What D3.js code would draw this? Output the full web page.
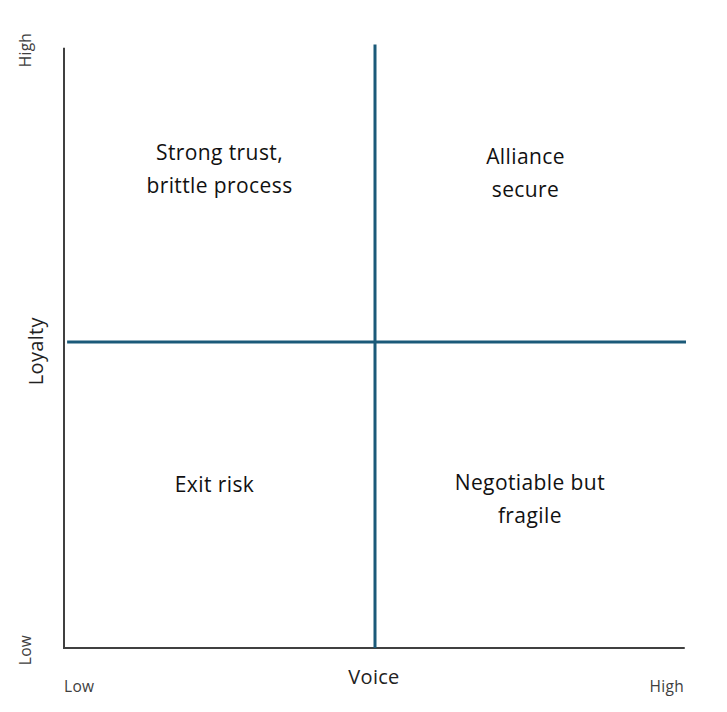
<!DOCTYPE html>
<html>
<head>
<meta charset="utf-8">
<script src="https://cdn.jsdelivr.net/npm/d3@7"></script>
<style>
  body { margin: 0; background: #fff; }
  text { font-family: "Open Sans", "Noto Sans", sans-serif; }
</style>
</head>
<body>
<svg id="chart" width="727" height="712"></svg>
<script>
const width = 727;
const height = 712;

// quadrant chart, both axes run 0..10
const xDomain = [0, 10];
const yDomain = [0, 10];
const xDivider = 5;
const yDivider = 5;

const quadrantLabels = [
  { lines: ["Strong trust,", "brittle process"], x: 2.5, y: 7.82 },
  { lines: ["Alliance", "secure"], x: 7.42, y: 7.76 },
  { lines: ["Exit risk"], x: 2.42, y: 2.66 },
  { lines: ["Negotiable but", "fragile"], x: 7.49, y: 2.42 },
];

const xTickLabels = ["Low", "High"];
const yTickLabels = ["Low", "High"];
const xTitle = "Voice";
const yTitle = "Loyalty";

const lineColor = "#1b5a79";
const axisColor = "#404040";

const svg = d3.select("#chart");

const x = d3.scaleLinear().domain(xDomain).range([64, 686]);
const y = d3.scaleLinear().domain(yDomain).range([648, 36]);

// axes (plain lines, no ticks)
svg.append("line")
  .attr("x1", x(0)).attr("x2", x(0))
  .attr("y1", y(0) + 1).attr("y2", y(9.81))
  .attr("stroke", axisColor).attr("stroke-width", 2);
svg.append("line")
  .attr("x1", x(0)).attr("x2", x(9.98))
  .attr("y1", y(0)).attr("y2", y(0))
  .attr("stroke", axisColor).attr("stroke-width", 2);

// dividers
svg.append("line")
  .attr("x1", x(xDivider)).attr("x2", x(xDivider))
  .attr("y1", y(0)).attr("y2", y(9.86))
  .attr("stroke", lineColor).attr("stroke-width", 3);
svg.append("line")
  .attr("x1", x(0.05)).attr("x2", x(10))
  .attr("y1", y(yDivider)).attr("y2", y(yDivider))
  .attr("stroke", lineColor).attr("stroke-width", 3);

// quadrant text
const lineH = 33;
quadrantLabels.forEach((q) => {
  const t = svg.append("text")
    .attr("x", x(q.x))
    .attr("y", y(q.y) - ((q.lines.length - 1) * lineH) / 2 + 7)
    .attr("text-anchor", "middle")
    .attr("font-size", 21)
    .attr("letter-spacing", 0.4)
    .attr("fill", "#111");
  q.lines.forEach((l, i) => {
    t.append("tspan")
      .attr("x", x(q.x))
      .attr("dy", i === 0 ? 0 : lineH)
      .text(l);
  });
});

// x tick labels
svg.append("text")
  .attr("x", x(0)).attr("y", 692)
  .attr("font-size", 15.5).attr("letter-spacing", 0.3).attr("fill", axisColor)
  .text(xTickLabels[0]);
svg.append("text")
  .attr("x", x(10) - 2).attr("y", 692)
  .attr("text-anchor", "end")
  .attr("font-size", 15.5).attr("letter-spacing", 0.3).attr("fill", axisColor)
  .text(xTickLabels[1]);

// y tick labels (rotated)
svg.append("text")
  .attr("transform", `translate(31,${y(0) + 2}) rotate(-90)`)
  .attr("text-anchor", "middle")
  .attr("font-size", 15.5).attr("letter-spacing", 0.3).attr("fill", axisColor)
  .text(yTickLabels[0]);
svg.append("text")
  .attr("transform", `translate(31,${y(9.77)}) rotate(-90)`)
  .attr("text-anchor", "middle")
  .attr("font-size", 15.5).attr("letter-spacing", 0.3).attr("fill", axisColor)
  .text(yTickLabels[1]);

// axis titles
svg.append("text")
  .attr("x", x(5) - 1).attr("y", 684)
  .attr("text-anchor", "middle")
  .attr("font-size", 20).attr("letter-spacing", 0.3).attr("fill", "#222")
  .text(xTitle);
svg.append("text")
  .attr("transform", `translate(43,${y(4.85)}) rotate(-90)`)
  .attr("text-anchor", "middle")
  .attr("font-size", 20).attr("letter-spacing", 0.3).attr("fill", "#222")
  .text(yTitle);
</script>
</body>
</html>
